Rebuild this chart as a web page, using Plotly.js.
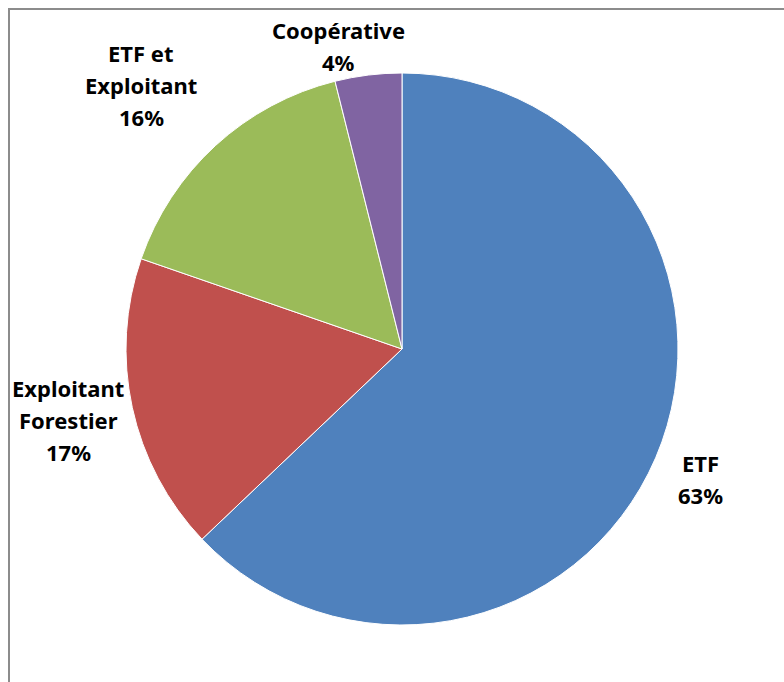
<!DOCTYPE html>
<html>
<head>
<meta charset="utf-8">
<script src="https://cdn.plot.ly/plotly-3.0.1.min.js"></script>
<style>html,body{margin:0;padding:0;background:#fff;}#chart{width:784px;height:682px;}</style>
</head>
<body>
<div id="chart"></div>
<script>
const categories = ["ETF", "Exploitant Forestier", "ETF et Exploitant", "Coopérative"];
const values = [62.9, 17.4, 15.8, 3.9];
const labelLines = [["ETF"], ["Exploitant", "Forestier"], ["ETF et", "Exploitant"], ["Coopérative"]];
const colors = ["#4F81BD", "#C0504D", "#9BBB59", "#8064A2"];

const W = 784, H = 682;
// label anchor centres in pixels (first line centre y)
const labelPos = [[700, 463], [68, 388], [141, 53], [338, 30]];
const lineGap = 32;

const total = values.reduce((a, b) => a + b, 0);
const annotations = [];
categories.forEach((c, i) => {
  const lines = labelLines[i].concat([Math.round(values[i] / total * 100) + "%"]);
  lines.forEach((t, j) => {
    annotations.push({
      text: t, xref: "paper", yref: "paper",
      x: labelPos[i][0] / W, y: 1 - (labelPos[i][1] + j * lineGap) / H,
      xanchor: "center", yanchor: "middle", showarrow: false,
      font: {family: "Noto Sans, sans-serif", size: 22, color: "#000", weight: "bold"}
    });
  });
});

const data = [{
  type: "pie",
  labels: categories,
  values: values,
  sort: false,
  direction: "clockwise",
  rotation: 0,
  textinfo: "none",
  hoverinfo: "label+percent",
  marker: {colors: colors, line: {color: "#ffffff", width: 1}},
  domain: {x: [126 / W, 678 / W], y: [1 - 625 / H, 1 - 73 / H]},
  showlegend: false
}];

const layout = {
  width: W, height: H,
  margin: {l: 0, r: 0, t: 0, b: 0},
  paper_bgcolor: "#ffffff",
  showlegend: false,
  annotations: annotations,
  shapes: [{
    type: "rect", xref: "paper", yref: "paper",
    x0: 9 / W, x1: 1.05, y0: -0.05, y1: 1 - 9 / H,
    line: {color: "#8c8c8c", width: 2}, fillcolor: "rgba(0,0,0,0)", layer: "below"
  }]
};

Plotly.newPlot("chart", data, layout, {staticPlot: true});
</script>
</body>
</html>
